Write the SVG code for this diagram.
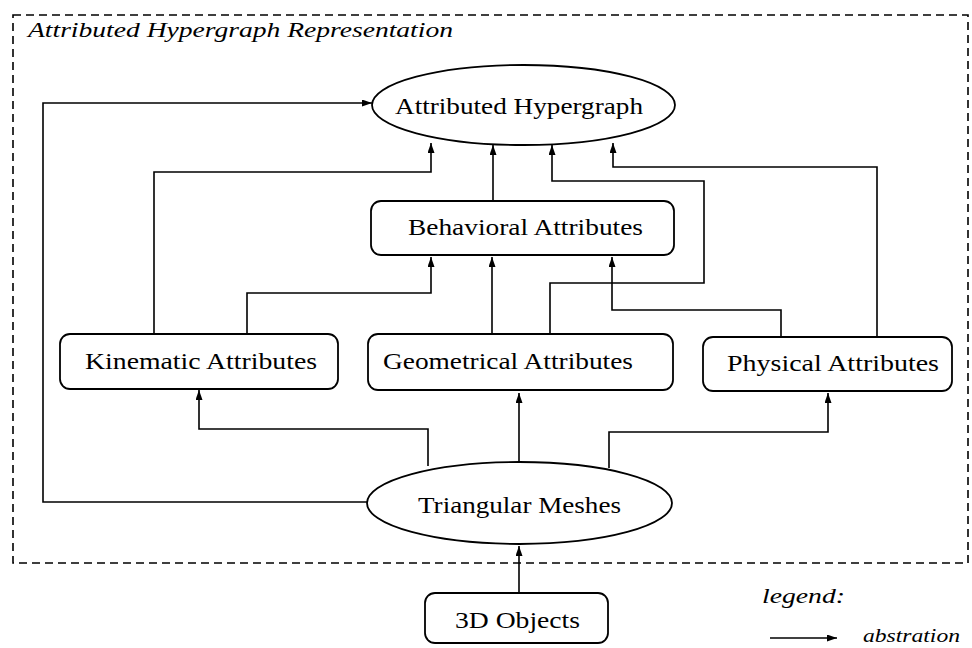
<svg xmlns="http://www.w3.org/2000/svg" width="972" height="648" viewBox="0 0 972 648">
  <style>
    .frame { fill: none; stroke: #000; stroke-width: 1.6; stroke-dasharray: 8 5; }
    .node { fill: #fff; stroke: #000; stroke-width: 1.8; }
    .label { font-family: "Liberation Serif", "Times New Roman", serif; font-size: 24px; fill: #000; text-anchor: start; }
    .ital { font-family: "Liberation Serif", "Times New Roman", serif; font-style: italic; fill: #000; }
    .edge { fill: none; stroke: #000; stroke-width: 1.6; marker-end: url(#arrow); }
  </style>
  <defs>
    <marker id="arrow" markerUnits="userSpaceOnUse" viewBox="0 0 10 7" refX="10" refY="3.5" markerWidth="10" markerHeight="7" orient="auto">
      <path d="M0,0 L10,3.5 L0,7 z" fill="#000"/>
    </marker>
  </defs>
  <rect width="972" height="648" fill="#fff"/>

  <!-- representation boundary -->
  <g id="representation">
    <rect class="frame" x="13" y="15" width="955" height="548"/>
    <text class="ital" x="28" y="37" font-size="22" textLength="425" lengthAdjust="spacingAndGlyphs">Attributed Hypergraph Representation</text>
  </g>

  <!-- connectors -->
  <g id="connectors">
    <!-- Triangular Meshes -> Attributed Hypergraph -->
    <path class="edge" d="M367,502 H43 V103 H372"/>
    <!-- Kinematic -> Attributed Hypergraph -->
    <path class="edge" d="M154,333 V172 H431 V143"/>
    <!-- Kinematic -> Behavioral -->
    <path class="edge" d="M247,333 V293 H431 V257"/>
    <!-- Behavioral -> Attributed Hypergraph -->
    <path class="edge" d="M493,201 V145"/>
    <!-- Geometrical -> Behavioral -->
    <path class="edge" d="M492,334 V257"/>
    <!-- Geometrical -> Attributed Hypergraph -->
    <path class="edge" d="M550,334 V283 H704 V181 H552 V145"/>
    <!-- Physical -> Behavioral -->
    <path class="edge" d="M781,337 V310 H612 V257"/>
    <!-- Physical -> Attributed Hypergraph -->
    <path class="edge" d="M877,337 V167 H613 V143"/>
    <!-- Triangular Meshes -> Kinematic -->
    <path class="edge" d="M428,466 V429 H199 V390"/>
    <!-- Triangular Meshes -> Geometrical -->
    <path class="edge" d="M519,463 V393"/>
    <!-- Triangular Meshes -> Physical -->
    <path class="edge" d="M609,468 V432 H828 V393"/>
    <!-- 3D Objects -> Triangular Meshes -->
    <path class="edge" d="M519,593 V546"/>
  </g>

  <g id="attributed-hypergraph">
    <ellipse class="node" cx="523.5" cy="105" rx="151.5" ry="40"/>
    <text class="label" x="395" y="114" textLength="248" lengthAdjust="spacingAndGlyphs">Attributed Hypergraph</text>
  </g>

  <g id="behavioral-attributes">
    <rect class="node" x="371" y="201" width="303" height="54" rx="10" ry="10"/>
    <text class="label" x="408" y="235" textLength="235" lengthAdjust="spacingAndGlyphs">Behavioral Attributes</text>
  </g>

  <g id="kinematic-attributes">
    <rect class="node" x="60" y="334" width="278" height="55" rx="10" ry="10"/>
    <text class="label" x="85" y="369" textLength="232" lengthAdjust="spacingAndGlyphs">Kinematic Attributes</text>
  </g>

  <g id="geometrical-attributes">
    <rect class="node" x="368" y="334" width="305" height="56" rx="10" ry="10"/>
    <text class="label" x="383" y="369" textLength="250" lengthAdjust="spacingAndGlyphs">Geometrical Attributes</text>
  </g>

  <g id="physical-attributes">
    <rect class="node" x="703" y="337" width="249" height="54" rx="10" ry="10"/>
    <text class="label" x="727" y="371" textLength="212" lengthAdjust="spacingAndGlyphs">Physical Attributes</text>
  </g>

  <g id="triangular-meshes">
    <ellipse class="node" cx="519.5" cy="503" rx="152.5" ry="41"/>
    <text class="label" x="418" y="513" textLength="203" lengthAdjust="spacingAndGlyphs">Triangular Meshes</text>
  </g>

  <g id="objects-3d">
    <rect class="node" x="425" y="593" width="183" height="50" rx="10" ry="10"/>
    <text class="label" x="455" y="628" textLength="125" lengthAdjust="spacingAndGlyphs">3D Objects</text>
  </g>

  <!-- legend -->
  <g id="legend">
    <text class="ital" x="762" y="603" font-size="22" textLength="83" lengthAdjust="spacingAndGlyphs">legend:</text>
    <line class="edge" x1="770" y1="638" x2="837" y2="638"/>
    <text class="ital" x="863" y="642" font-size="19" textLength="97" lengthAdjust="spacingAndGlyphs">abstration</text>
  </g>
</svg>
